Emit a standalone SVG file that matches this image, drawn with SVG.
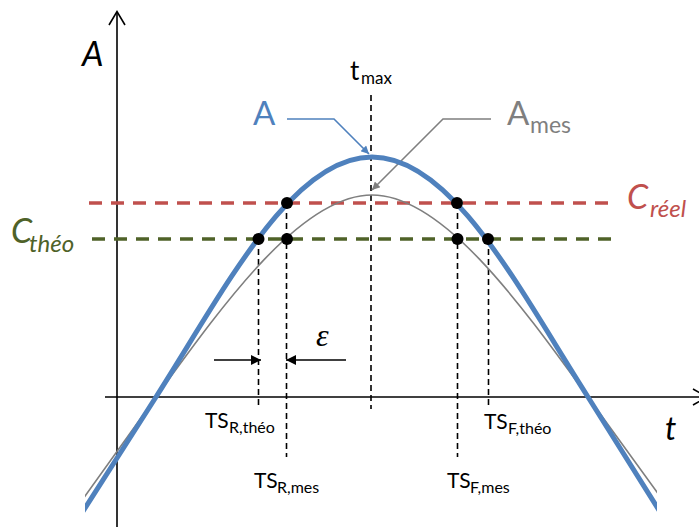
<svg xmlns="http://www.w3.org/2000/svg" width="699" height="527" viewBox="0 0 699 527">
<style>
.ax{stroke:#000;stroke-width:1.6;fill:none}
.vd{stroke:#000;stroke-width:1.6;stroke-dasharray:6 4;fill:none}
.hd{stroke-width:3.5;stroke-dasharray:13 9;fill:none}
.dot{fill:#000}
.lab{font-family:Lato,"Liberation Sans",sans-serif}
.it{font-style:italic}
</style>
<defs>
<clipPath id="cl"><rect x="85" y="0" width="572" height="527"/></clipPath>
<marker id="mb" viewBox="0 0 10 10" refX="10" refY="5" markerWidth="10" markerHeight="8" markerUnits="userSpaceOnUse" orient="auto"><path d="M0,0 L10,5 L0,10 Z" fill="#4F81BD"/></marker>
<marker id="mg" viewBox="0 0 10 10" refX="10" refY="5" markerWidth="10" markerHeight="8" markerUnits="userSpaceOnUse" orient="auto"><path d="M0,0 L10,5 L0,10 Z" fill="#7F7F7F"/></marker>
<marker id="mk" viewBox="0 0 10 10" refX="10" refY="5" markerWidth="12" markerHeight="10" markerUnits="userSpaceOnUse" orient="auto"><path d="M0,0 L10,5 L0,10 Z" fill="#000"/></marker>
</defs>
<g id="axes">
<line class="ax" x1="117" y1="12" x2="117" y2="527"/>
<polyline class="ax" points="109,25 117,11.5 125,25"/>
<line class="ax" x1="105" y1="397" x2="699" y2="397"/>
<polyline class="ax" points="693,389 707,397 693,405"/>
</g>
<g id="levels">
<line class="hd" stroke="#C0504D" x1="89" y1="203" x2="617" y2="203"/>
<line class="hd" stroke="#4F6228" x1="92" y1="239" x2="620" y2="239"/>
</g>
<g id="connectors">
<line class="vd" x1="371" y1="95" x2="371" y2="409"/>
<line class="vd" x1="258.5" y1="239" x2="258.5" y2="408"/>
<line class="vd" x1="286.5" y1="203" x2="286.5" y2="457"/>
<line class="vd" x1="457.5" y1="203" x2="457.5" y2="457"/>
<line class="vd" x1="488.5" y1="239" x2="488.5" y2="408"/>
<polyline points="287,119 334,119 369,154" fill="none" stroke="#4F81BD" stroke-width="1.6" marker-end="url(#mb)"/>
<polyline points="491,119 443,119 372,190" fill="none" stroke="#7F7F7F" stroke-width="1.6" marker-end="url(#mg)"/>
<line x1="214" y1="360" x2="261" y2="360" stroke="#000" stroke-width="1.6" marker-end="url(#mk)"/>
<line x1="346" y1="360" x2="286" y2="360" stroke="#000" stroke-width="1.6" marker-end="url(#mk)"/>
</g>
<g id="curves" clip-path="url(#cl)">
<path id="Ames" d="M 80,503 L 156,397 C 226,300.4 302,195 372,195 C 442,195 518,300.4 588,397 L 662,499" fill="none" stroke="#7F7F7F" stroke-width="1.6"/>
<path id="Acurve" d="M 80,516 L 156,397 C 226,287.1 292,157 372,157 C 452,157 518,287.1 588,397 L 662,515" fill="none" stroke="#4F81BD" stroke-width="5"/>
</g>
<g id="points">
<circle class="dot" cx="287" cy="203" r="6"/>
<circle class="dot" cx="258.5" cy="239" r="6"/>
<circle class="dot" cx="287" cy="239" r="6"/>
<circle class="dot" cx="457" cy="203" r="6"/>
<circle class="dot" cx="457.5" cy="239" r="6"/>
<circle class="dot" cx="488" cy="239" r="6"/>
</g>
<g id="labels" class="lab">
<text x="82" y="66" font-size="34" class="it">A</text>
<text x="665" y="440" font-size="32" class="it">t</text>
<text x="350" y="80" font-size="26">t</text><text x="361" y="84" font-size="17">max</text>
<text x="253" y="125" font-size="33" fill="#4F81BD">A</text>
<text x="507" y="125" font-size="33" fill="#7F7F7F">A</text><text x="530" y="133" font-size="23" fill="#7F7F7F">mes</text>
<text x="627" y="209" font-size="34" class="it" fill="#C0504D">C</text><text x="650" y="217" font-size="24" class="it" fill="#C0504D">réel</text>
<text x="11" y="243" font-size="34" class="it" fill="#4F6228">C</text><text x="29" y="252" font-size="24" class="it" fill="#4F6228">théo</text>
<text x="316" y="346" font-size="32" font-family="'Liberation Serif',serif" font-style="italic">ε</text>
<text x="205" y="428" font-size="21">TS</text><text x="229" y="433" font-size="16">R,théo</text>
<text x="254" y="488" font-size="21">TS</text><text x="277" y="493" font-size="16">R,mes</text>
<text x="484" y="429" font-size="21">TS</text><text x="508" y="434" font-size="16">F,théo</text>
<text x="447" y="488" font-size="21">TS</text><text x="470" y="493" font-size="16">F,mes</text>
</g>
</svg>
